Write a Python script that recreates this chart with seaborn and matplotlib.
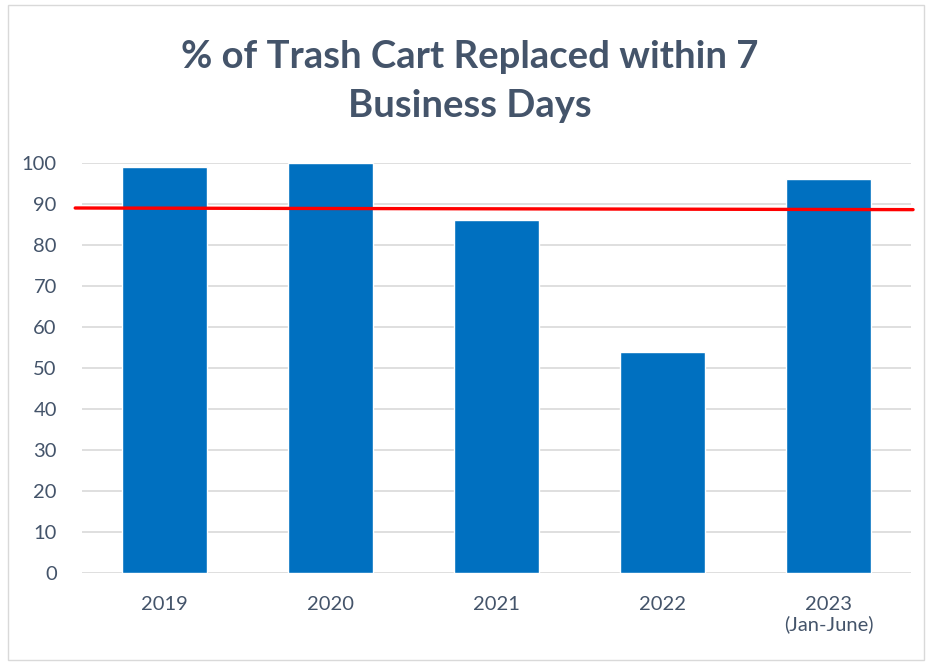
import matplotlib
matplotlib.use('Agg')
import matplotlib.pyplot as plt
import matplotlib.patches as mpatches
import numpy as np
import pandas as pd
import seaborn as sns

# chart values
years = ['2019', '2020', '2021', '2022', '2023\n(Jan-June)']
pct_replaced = [99, 100, 86, 54, 96]
target_start = 89.0
target_end = 88.6

sns.set_style('white')
plt.rcParams['font.family'] = ['Lato', 'DejaVu Sans']

df = pd.DataFrame({'year': years, 'pct': pct_replaced})

fig = plt.figure(figsize=(9.3, 6.62), dpi=100)
ax = fig.add_axes([0.088, 0.134, 0.892, 0.62])

sns.barplot(data=df, x='year', y='pct', color='#0070C0', saturation=1,
            width=0.51, ax=ax, zorder=2)

# target line, starts a little left of the plot area like the original
ax.plot([-0.54, 4.51], [target_start, target_end], color='#FF0000',
        lw=2.4, clip_on=False, zorder=3)

ax.set_xlim(-0.5, 4.5)
ax.set_ylim(0, 100)
ax.set_yticks(np.arange(0, 101, 10))
ax.grid(axis='y', color='#D9D9D9', lw=1.2, zorder=0)
ax.set_axisbelow(True)
sns.despine(ax=ax, left=True, bottom=True)
ax.set_xlabel('')
ax.set_ylabel('')
ax.tick_params(axis='both', length=0, labelsize=14.5, labelcolor='#44546A')
ax.tick_params(axis='x', pad=16)
ax.tick_params(axis='y', pad=18)

fig.text(0.505, 0.877, '% of Trash Cart Replaced within 7\nBusiness Days',
         ha='center', va='center', fontsize=27.5, fontweight='bold',
         color='#44546A', linespacing=1.52)

# light frame around the whole chart
fig.patches.append(mpatches.Rectangle((0.009, 0.003), 0.985, 0.99,
                                      transform=fig.transFigure,
                                      fill=False, edgecolor='#D9D9D9', lw=1))

fig.savefig('out.png', dpi=100)
